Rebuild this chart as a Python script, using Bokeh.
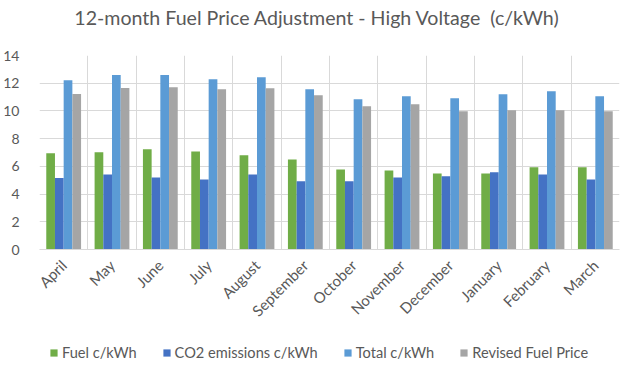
from bokeh.plotting import figure
from bokeh.models import ColumnDataSource, FactorRange, Legend, LegendItem, FixedTicker, SingleIntervalTicker, Div
from bokeh.layouts import column
from bokeh.transform import dodge
from bokeh.embed import file_html
from bokeh.resources import INLINE
import math

title_text = "12-month Fuel Price Adjustment - High Voltage\u00a0 (c/kWh)"
months = ["April", "May", "June", "July", "August", "September", "October",
          "November", "December", "January", "February", "March"]
fuel = [6.94, 7.01, 7.23, 7.08, 6.80, 6.50, 5.78, 5.71, 5.49, 5.49, 5.93, 5.93]
co2 = [5.16, 5.42, 5.20, 5.06, 5.42, 4.92, 4.92, 5.20, 5.28, 5.57, 5.42, 5.06]
total = [12.22, 12.60, 12.60, 12.29, 12.43, 11.57, 10.84, 11.06, 10.92, 11.20, 11.42, 11.06]
revised = [11.23, 11.66, 11.71, 11.57, 11.64, 11.13, 10.34, 10.48, 9.98, 10.05, 10.05, 9.98]
series_names = ["Fuel c/kWh", "CO2 emissions c/kWh", "Total c/kWh", "Revised Fuel Price"]
colors = ["#70AD47", "#4472C4", "#5B9BD5", "#A5A5A5"]
keys = ["fuel", "co2", "total", "revised"]

src = ColumnDataSource(dict(month=months, fuel=fuel, co2=co2, total=total, revised=revised))

FONT = "Lato"
GREY = "#595959"

title = Div(text=title_text, width=633, height=40,
            styles={"text-align": "center", "font-family": FONT, "font-size": "19.6px",
                    "color": GREY, "line-height": "36px", "margin": "0", "padding": "0",
                    "white-space": "nowrap"})

p = figure(x_range=FactorRange(*months, range_padding=0), y_range=(0, 14),
           width=633, height=290, output_backend="svg", toolbar_location=None,
           min_border_left=37, min_border_right=14, min_border_top=15, min_border_bottom=81)

w = 0.18
renderers = []
for i, (key, col) in enumerate(zip(keys, colors)):
    off = (i - 1.5) * w
    r = p.vbar(x=dodge("month", off, range=p.x_range), top=key, width=w, source=src,
               fill_color=col, line_color=None)
    renderers.append(r)

p.outline_line_color = None

p.yaxis.ticker = SingleIntervalTicker(interval=2)
p.yaxis.axis_line_color = None
p.yaxis.major_tick_line_color = None
p.yaxis.minor_tick_line_color = None
p.yaxis.major_label_text_font = FONT
p.yaxis.major_label_text_font_size = "14px"
p.yaxis.major_label_text_color = GREY
p.yaxis.major_label_standoff = 14

p.xaxis.axis_line_color = "#D9D9D9"
p.xaxis.major_tick_line_color = None
p.xaxis.minor_tick_line_color = None
p.xaxis.major_label_orientation = math.pi / 4
p.xaxis.major_label_text_font = FONT
p.xaxis.major_label_text_font_size = "15px"
p.xaxis.major_label_text_color = GREY
p.xaxis.major_label_standoff = 7

p.ygrid.grid_line_color = "#D9D9D9"
p.ygrid.ticker = SingleIntervalTicker(interval=2)
p.xgrid.grid_line_color = "#D9D9D9"
p.xgrid.ticker = FixedTicker(ticks=list(range(0, 13)))

# legend strip below the chart (swatches drawn from the same series colours, kept out of view)
pl = figure(width=633, height=46, x_range=(0, 1), y_range=(0, 1),
            output_backend="svg", toolbar_location=None,
            min_border=0, outline_line_color=None)
pl.axis.visible = False
pl.grid.visible = False
leg_src = ColumnDataSource(dict(x=[-5.0], top=[-5.0]))
leg_r = []
for col in colors:
    leg_r.append(pl.vbar(x="x", top="top", width=0.1, source=leg_src,
                         fill_color=col, line_color=None))
legend = Legend(items=[LegendItem(label=n, renderers=[r]) for n, r in zip(series_names, leg_r)],
                orientation="horizontal", location=(10, 15),
                label_text_font=FONT, label_text_font_size="14.6px", label_text_color=GREY,
                glyph_width=9, glyph_height=9, spacing=25, label_standoff=4,
                padding=0, margin=0,
                border_line_color=None, background_fill_alpha=0)
pl.add_layout(legend, "center")

layout = column(title, p, pl, spacing=0)
open("out.html", "w").write(file_html(layout, INLINE))
